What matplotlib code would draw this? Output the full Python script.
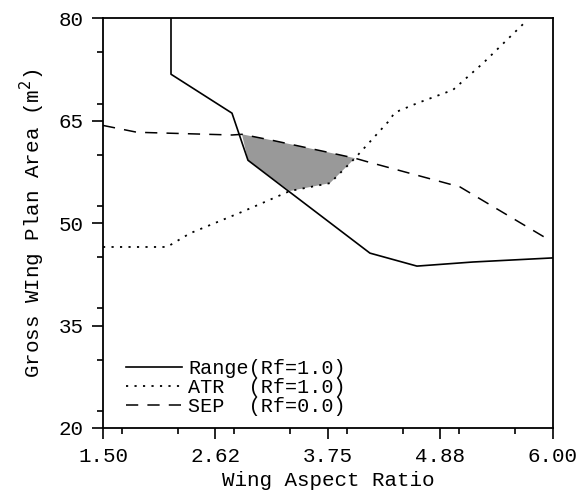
import matplotlib.pyplot as plt
from matplotlib.ticker import MultipleLocator

# Range (Rf=1.0)
range_x = [2.18, 2.18, 2.79, 2.95, 4.17, 4.64, 5.20, 6.00]
range_y = [80.0, 71.8, 66.1, 59.2, 45.6, 43.7, 44.3, 44.9]

# ATR (Rf=1.0)
atr_x = [1.50, 2.14, 2.37, 2.90, 3.37, 3.77, 3.87, 4.02, 4.35, 4.42, 4.65, 5.00, 5.30, 5.72]
atr_y = [46.5, 46.5, 48.5, 51.7, 54.7, 55.85, 57.3, 59.5, 64.8, 66.2, 67.6, 69.5, 73.4, 79.4]

# SEP (Rf=0.0)
sep_x = [1.50, 1.84, 2.79, 2.89, 3.20, 3.74, 4.02, 4.14, 5.07, 5.92]
sep_y = [64.3, 63.3, 62.9, 63.0, 62.1, 60.4, 59.5, 59.0, 55.3, 47.9]

# feasible region (shaded)
feas_x = [2.89, 3.20, 3.74, 4.02, 3.87, 3.77, 3.37, 2.95, 2.89]
feas_y = [63.0, 62.1, 60.4, 59.5, 57.3, 55.85, 54.7, 59.2, 63.0]

xticks = [1.50, 2.625, 3.75, 4.875, 6.00]
xlabels = ['1.50', '2.62', '3.75', '4.88', '6.00']
yticks = [20, 35, 50, 65, 80]

plt.rcParams['font.family'] = ['Liberation Mono', 'DejaVu Sans Mono']

fig = plt.figure(figsize=(5.82, 4.93), dpi=100)
ax = fig.add_axes([0.177, 0.132, 0.773, 0.831])

ax.fill(feas_x, feas_y, color='#999999', lw=0)
ax.plot(range_x, range_y, color='black', lw=1.2, label='Range(Rf=1.0)')
ax.plot(atr_x, atr_y, color='black', lw=1.3, linestyle=(0, (1.2, 3.5)), label='ATR  (Rf=1.0)')
ax.plot(sep_x, sep_y, color='black', lw=1.1, linestyle=(0, (8, 6)), label='SEP  (Rf=0.0)')

ax.set_xlim(1.5, 6.0)
ax.set_ylim(20, 80)
ax.set_xticks(xticks)
ax.set_xticklabels(xlabels)
ax.set_yticks(yticks)
ax.xaxis.set_minor_locator(MultipleLocator(0.5625))
ax.yaxis.set_minor_locator(MultipleLocator(7.5))
ax.tick_params(which='major', direction='out', length=8, width=1.2, labelsize=15, pad=6)
ax.tick_params(which='minor', direction='out', length=4, width=1.2)
for s in ax.spines.values():
    s.set_linewidth(1.3)

ax.set_xlabel('Wing Aspect Ratio', fontsize=15, labelpad=3)
ax.set_ylabel('Gross WIng Plan Area (m$^2$)', fontsize=15, labelpad=8)

ax.legend(loc='lower left', frameon=False, fontsize=14.5, handlelength=2.8,
          handletextpad=0.3, labelspacing=0.0, borderaxespad=0, borderpad=0,
          bbox_to_anchor=(0.05, 0.03))

fig.savefig('out.png', dpi=100)
